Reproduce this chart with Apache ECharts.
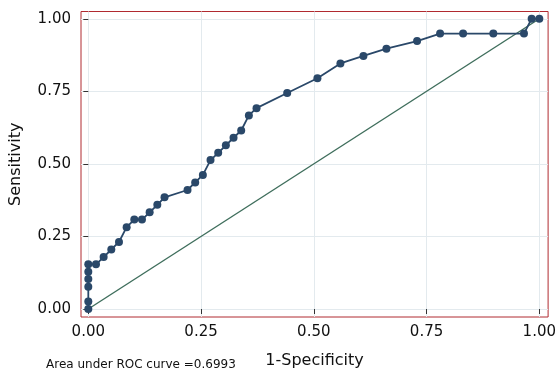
<!DOCTYPE html>
<html>
<head>
<meta charset="utf-8">
<script src="https://cdn.jsdelivr.net/npm/echarts@6/dist/echarts.min.js"></script>
<style>html,body{margin:0;padding:0;background:#fff;}#c{width:559px;height:374px;}</style>
</head>
<body>
<div id="c"></div>
<script>
// 1 - specificity (false positive rate)
var fpr = [0, 0, 0, 0, 0, 0, 0.017, 0.034, 0.051, 0.068, 0.085, 0.102, 0.119, 0.136, 0.153, 0.169,
  0.220, 0.237, 0.254, 0.271, 0.288, 0.305, 0.322, 0.339, 0.356, 0.373, 0.441, 0.508, 0.559, 0.610,
  0.661, 0.729, 0.780, 0.831, 0.898, 0.966, 0.983, 1.0];
// sensitivity (true positive rate)
var tpr = [0, 0.026, 0.077, 0.103, 0.128, 0.154, 0.154, 0.179, 0.205, 0.231, 0.282, 0.308, 0.308, 0.333, 0.359, 0.385,
  0.410, 0.436, 0.462, 0.513, 0.538, 0.564, 0.590, 0.615, 0.667, 0.692, 0.744, 0.795, 0.846, 0.872,
  0.897, 0.923, 0.949, 0.949, 0.949, 0.949, 1.0, 1.0];
var refX = [0, 1];
var refY = [0, 1];
var tickValues = [0, 0.25, 0.5, 0.75, 1];
var aucText = 'Area under ROC curve =0.6993';

var rocData = fpr.map(function (x, i) { return [x, tpr[i]]; });
var refData = refX.map(function (x, i) { return [x, refY[i]]; });

var font = 'DejaVu Sans';
var chart = echarts.init(document.getElementById('c'), null, { renderer: 'canvas' });
chart.setOption({
  animation: false,
  backgroundColor: '#ffffff',
  title: {
    text: aucText,
    left: 46,
    top: 359,
    padding: 0,
    textStyle: { fontFamily: font, fontSize: 12, fontWeight: 'normal', color: '#111111' }
  },
  grid: {
    left: 80.5, top: 11.5, width: 468, height: 306.5,
    show: true, borderColor: '#b02a30', borderWidth: 1, backgroundColor: 'transparent'
  },
  xAxis: {
    type: 'value',
    min: -0.0162, max: 1.0195,
    name: '1-Specificity',
    nameLocation: 'middle',
    nameGap: 36,
    nameTextStyle: { fontFamily: font, fontSize: 16, color: '#111111' },
    axisLine: { show: false },
    axisTick: { show: true, length: 5, customValues: tickValues, lineStyle: { color: '#333', width: 1 } },
    axisLabel: {
      customValues: tickValues, margin: 8,
      fontFamily: font, fontSize: 15, color: '#111111',
      formatter: function (v) { return v.toFixed(2); }
    },
    splitLine: { show: true, lineStyle: { color: '#e3eaee', width: 1 } }
  },
  yAxis: {
    type: 'value',
    min: -0.0275, max: 1.025,
    name: 'Sensitivity',
    nameLocation: 'middle',
    nameGap: 57,
    nameTextStyle: { fontFamily: font, fontSize: 16, color: '#111111' },
    axisLine: { show: false },
    axisTick: { show: true, length: 5, customValues: tickValues, lineStyle: { color: '#333', width: 1 } },
    axisLabel: {
      customValues: tickValues, margin: 10,
      fontFamily: font, fontSize: 15, color: '#111111',
      formatter: function (v) { return v.toFixed(2); }
    },
    splitLine: { show: true, lineStyle: { color: '#e3eaee', width: 1 } }
  },
  series: [
    {
      type: 'line',
      data: refData,
      symbol: 'none',
      lineStyle: { color: '#3f6e5c', width: 1.4 },
      z: 2
    },
    {
      type: 'line',
      data: rocData,
      symbol: 'circle',
      symbolSize: 8,
      itemStyle: { color: '#2a4869' },
      lineStyle: { color: '#2a4869', width: 1.8 },
      z: 3
    }
  ]
});
</script>
</body>
</html>
